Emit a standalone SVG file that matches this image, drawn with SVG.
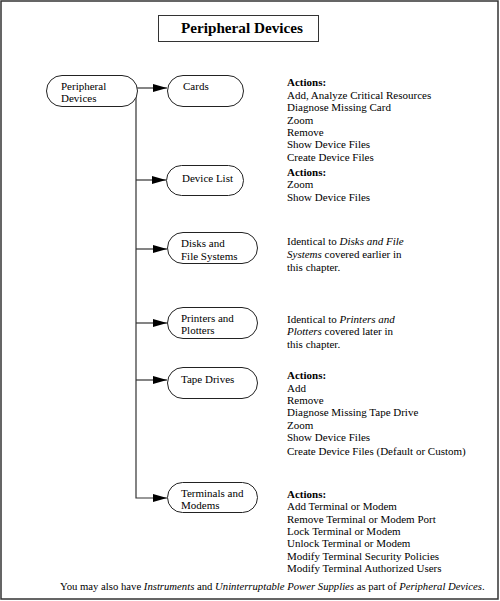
<svg xmlns="http://www.w3.org/2000/svg" width="500" height="601" viewBox="0 0 500 601">
<style>
  text { font-family: "Liberation Serif", "Times New Roman", serif; fill: #000; }
  .t { font-size: 11px; }
  .b { font-weight: bold; }
  .i { font-style: italic; }
  .node { fill: #fff; stroke: #222; stroke-width: 1; }
  .conn { fill: none; stroke: #333; stroke-width: 1.2; }
</style>
<defs>
  <marker id="arr" markerUnits="userSpaceOnUse" markerWidth="14" markerHeight="8" refX="14" refY="4" orient="auto">
    <path d="M0,0 L14,4 L0,8 z" fill="#000"/>
  </marker>
</defs>
<rect x="1" y="1" width="497" height="598" fill="#fff" stroke="#333" stroke-width="1.5"/>
<g id="title">
  <rect x="158.5" y="15.5" width="160" height="26" fill="#fff" stroke="#333" stroke-width="1"/>
  <text x="181" y="33" font-size="15.2" class="b">Peripheral Devices</text>
</g>
<g id="connectors">
  <path class="conn" d="M137,88 L167,88" marker-end="url(#arr)"/>
  <path class="conn" d="M136,88 L136,498 L167,498" marker-end="url(#arr)"/>
  <path class="conn" d="M136,180 L166,180" marker-end="url(#arr)"/>
  <path class="conn" d="M136,249 L167,249" marker-end="url(#arr)"/>
  <path class="conn" d="M136,323 L167,323" marker-end="url(#arr)"/>
  <path class="conn" d="M136,380 L167,380" marker-end="url(#arr)"/>
</g>
<g id="peripheral">
  <rect class="node" x="46.5" y="75.5" width="91" height="31" rx="15.5"/>
  <text class="t" x="61" y="90">Peripheral</text>
  <text class="t" x="61" y="102">Devices</text>
</g>
<g id="cards">
  <rect class="node" x="167.5" y="75.5" width="76" height="31" rx="15.5"/>
  <text class="t" x="183" y="90">Cards</text>
</g>
<g id="devicelist">
  <rect class="node" x="166.5" y="165.5" width="77" height="30" rx="15"/>
  <text class="t" x="182" y="182">Device List</text>
</g>
<g id="disks">
  <rect class="node" x="167.5" y="232.5" width="90" height="31" rx="15.5"/>
  <text class="t" x="181" y="247">Disks and</text>
  <text class="t" x="181" y="260">File Systems</text>
</g>
<g id="printers">
  <rect class="node" x="167.5" y="307.5" width="90" height="31" rx="15.5"/>
  <text class="t" x="181" y="322">Printers and</text>
  <text class="t" x="181" y="334">Plotters</text>
</g>
<g id="tape">
  <rect class="node" x="167.5" y="367.5" width="90" height="31" rx="15.5"/>
  <text class="t" x="181" y="383">Tape Drives</text>
</g>
<g id="terminals">
  <rect class="node" x="167.5" y="482.5" width="90" height="30" rx="15"/>
  <text class="t" x="181" y="497">Terminals and</text>
  <text class="t" x="181" y="509">Modems</text>
</g>
<g id="cards-actions">
  <text class="t b" x="287" y="86">Actions:</text>
  <text class="t" x="287" y="99">Add, Analyze Critical Resources</text>
  <text class="t" x="287" y="111">Diagnose Missing Card</text>
  <text class="t" x="287" y="124">Zoom</text>
  <text class="t" x="287" y="136">Remove</text>
  <text class="t" x="287" y="148">Show Device Files</text>
  <text class="t" x="287" y="161">Create Device Files</text>
</g>
<g id="devicelist-actions">
  <text class="t b" x="287" y="176">Actions:</text>
  <text class="t" x="287" y="188">Zoom</text>
  <text class="t" x="287" y="201">Show Device Files</text>
</g>
<g id="disks-note">
  <text class="t" x="287" y="245">Identical to <tspan class="i">Disks and File</tspan></text>
  <text class="t" x="287" y="258"><tspan class="i">Systems</tspan> covered earlier in</text>
  <text class="t" x="287" y="271">this chapter.</text>
</g>
<g id="printers-note">
  <text class="t" x="287" y="323">Identical to <tspan class="i">Printers and</tspan></text>
  <text class="t" x="287" y="335"><tspan class="i">Plotters</tspan> covered later in</text>
  <text class="t" x="287" y="348">this chapter.</text>
</g>
<g id="tape-actions">
  <text class="t b" x="287" y="379">Actions:</text>
  <text class="t" x="287" y="392">Add</text>
  <text class="t" x="287" y="404">Remove</text>
  <text class="t" x="287" y="416">Diagnose Missing Tape Drive</text>
  <text class="t" x="287" y="429">Zoom</text>
  <text class="t" x="287" y="441">Show Device Files</text>
  <text class="t" x="287" y="455">Create Device Files (Default or Custom)</text>
</g>
<g id="terminals-actions">
  <text class="t b" x="287" y="498">Actions:</text>
  <text class="t" x="287" y="510">Add Terminal or Modem</text>
  <text class="t" x="287" y="523">Remove Terminal or Modem Port</text>
  <text class="t" x="287" y="535">Lock Terminal or Modem</text>
  <text class="t" x="287" y="547">Unlock Terminal or Modem</text>
  <text class="t" x="287" y="560">Modify Terminal Security Policies</text>
  <text class="t" x="287" y="572">Modify Terminal Authorized Users</text>
</g>
<g id="footer">
  <text x="60" y="590" font-size="10.7">You may also have <tspan class="i">Instruments</tspan> and <tspan class="i">Uninterruptable Power Supplies</tspan> as part of <tspan class="i">Peripheral Devices</tspan>.</text>
</g>
</svg>
